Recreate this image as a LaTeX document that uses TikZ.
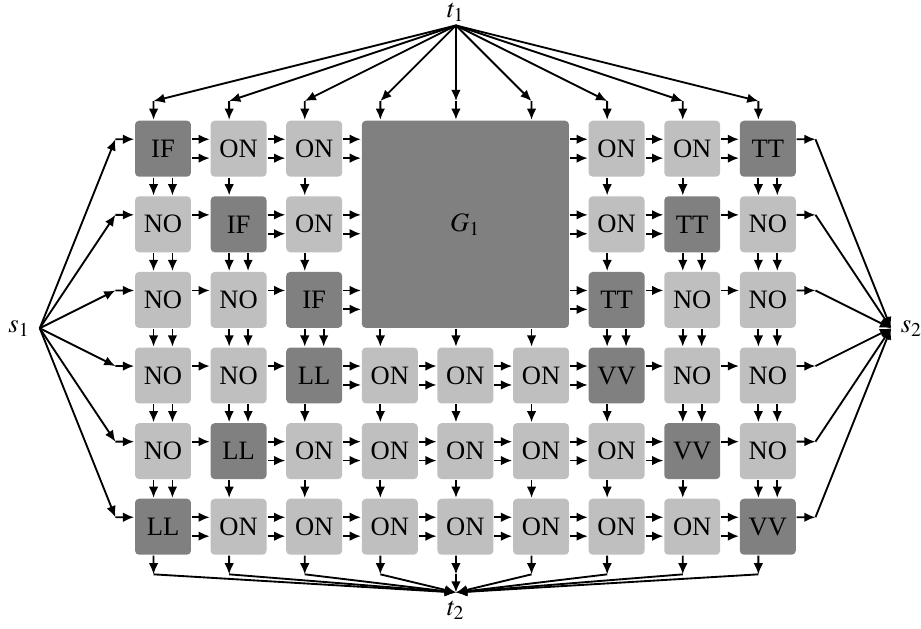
\documentclass[tikz,border=0pt]{standalone}
\usepackage{mathptmx}
\usepackage{fontspec}
\setmainfont{Liberation Serif}
\usetikzlibrary{arrows.meta, positioning}

\tikzset{
    cell/.style={minimum size=7.4mm, inner sep=0pt, rounded corners=1.5pt},
    big/.style={cell, fill=gray, minimum size=27.4mm},
    is IF/.style={fill=gray}, is TT/.style={fill=gray},
    is LL/.style={fill=gray}, is VV/.style={fill=gray},
    is ON/.style={fill=lightgray}, is NO/.style={fill=lightgray}
}

\begin{document}
\begin{tikzpicture}[>={Latex[length=4.2pt, width=3.6pt]}, line width=0.7pt]
    \useasboundingbox (-1.156, 0.967) rectangle (11.026, -7.34);
    \def\gee{G}
    % gadget label / arrows to the right / arrows down
    \def\rows{%
        {IF/2/2,ON/2/1,ON/2/1,G/0/0,G/0/0,G/2/0,ON/2/1,ON/2/1,TT/1/2},%
        {NO/1/2,IF/2/2,ON/2/1,G/0/0,G/0/0,G/2/0,ON/2/1,TT/1/2,NO/1/2},%
        {NO/1/2,NO/1/2,IF/2/2,G/0/1,G/0/1,G/2/1,TT/1/2,NO/1/2,NO/1/2},%
        {NO/1/2,NO/1/2,LL/2/1,ON/2/1,ON/2/1,ON/2/1,VV/1/1,NO/1/2,NO/1/2},%
        {NO/1/2,LL/2/1,ON/2/1,ON/2/1,ON/2/1,ON/2/1,ON/2/1,VV/1/1,NO/1/2},%
        {LL/2/1,ON/2/1,ON/2/1,ON/2/1,ON/2/1,ON/2/1,ON/2/1,ON/2/1,VV/1/1}}

    % Gadgets
    \foreach \row [count=\y] in \rows {
        \foreach \lbl/\nh/\nv [count=\x] in \row {
            \ifx\lbl\gee
                \node[cell] (n-\y-\x) at (\x,-\y) {};
            \else
                \node[cell, is \lbl] (n-\y-\x) at (\x,-\y) {\lbl};
            \fi
        }
    }
    \node[big] (g1) at (5,-2) {$G_1$};

    % Terminals
    \coordinate[label=left:$s_1$] (s1) at (-0.63, -3.375);
    \coordinate[label=right:$s_2$] (s2) at (10.63, -3.375);
    \coordinate[label={[inner sep=0pt, label distance=1.2pt]above:$t_1$}] (t1) at (4.875, 0.63);
    \coordinate[label={[inner sep=0pt, label distance=3pt]below:$t_2$}] (t2) at (4.875, -6.87);
    \foreach \y in {1,...,6} {
        \coordinate (in-\y) at (0.37, 0.125-\y);
        \coordinate (out-\y) at (9.63, 0.125-\y);
        \draw[->] (s1) -- (in-\y);
        \draw[->] (in-\y) -- ([yshift=1.25mm]n-\y-1.west);
        \draw[->] (out-\y) -- (s2);
    }
    \foreach \x in {1,...,9} {
        \coordinate (top-\x) at (\x-0.125, -0.37);
        \coordinate (bot-\x) at (\x-0.125, -6.63);
        \draw[->] (t1) -- (top-\x);
        \draw[->] (top-\x) -- ([xshift=-1.25mm]n-1-\x.north);
        \draw[->] (bot-\x) -- (t2);
    }

    % Wires between gadgets
    \foreach \row [count=\y] in \rows {
        \foreach \lbl/\nh/\nv [count=\x] in \row {
            \pgfmathtruncatemacro\xx{\x+1}
            \pgfmathtruncatemacro\yy{\y+1}
            \ifnum\nh>0
                \ifnum\x<9
                    \draw[->] ([yshift=1.25mm]n-\y-\x.east) -- ([yshift=1.25mm]n-\y-\xx.west);
                \else
                    \draw[->] ([yshift=1.25mm]n-\y-\x.east) -- (out-\y);
                \fi
            \fi
            \ifnum\nh>1
                \draw[->] ([yshift=-1.25mm]n-\y-\x.east) -- ([yshift=-1.25mm]n-\y-\xx.west);
            \fi
            \ifnum\nv>0
                \ifnum\y<6
                    \draw[->] ([xshift=-1.25mm]n-\y-\x.south) -- ([xshift=-1.25mm]n-\yy-\x.north);
                \else
                    \draw[->] ([xshift=-1.25mm]n-\y-\x.south) -- (bot-\x);
                \fi
            \fi
            \ifnum\nv>1
                \draw[->] ([xshift=1.25mm]n-\y-\x.south) -- ([xshift=1.25mm]n-\yy-\x.north);
            \fi
        }
    }
\end{tikzpicture}
\end{document}
